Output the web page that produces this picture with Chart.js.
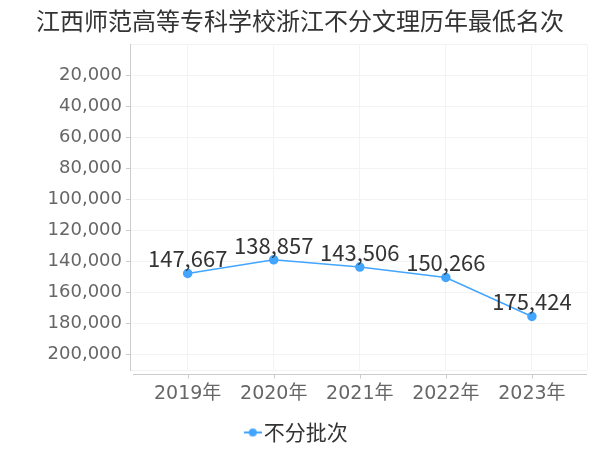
<!DOCTYPE html>
<html>
<head>
<meta charset="utf-8">
<script src="https://cdn.jsdelivr.net/npm/chart.js@4"></script>
<style>
  html, body { margin: 0; padding: 0; background: #fff; }
  #wrap { width: 600px; height: 450px; }
</style>
</head>
<body>
<div id="wrap"><canvas id="rankChart" width="600" height="450"></canvas></div>
<script>
const years = ['2019年', '2020年', '2021年', '2022年', '2023年'];
const minRanks = [147667, 138857, 143506, 150266, 175424];
const seriesName = '不分批次';
const yTicks = [0, 20000, 40000, 60000, 80000, 100000, 120000, 140000, 160000, 180000, 200000, 210000];

const lineColor = '#42a5ff';
const axisColor = '#cccccc';
const gridColor = '#f3f3f3';
const cnFont = '"Noto Sans CJK SC", "Noto Sans", sans-serif';
const tickFont = '"DejaVu Sans", "Noto Sans CJK SC", sans-serif';

const fmt = v => v.toLocaleString('en-US');
const shown = v => v !== 0 && v % 20000 === 0;

// small line+dot marker for the legend
const marker = document.createElement('canvas');
marker.width = 18; marker.height = 10;
(function () {
  const c = marker.getContext('2d');
  c.strokeStyle = lineColor; c.lineWidth = 2;
  c.beginPath(); c.moveTo(0, 5); c.lineTo(18, 5); c.stroke();
  c.fillStyle = lineColor;
  c.beginPath(); c.arc(9, 5, 4, 0, Math.PI * 2); c.fill();
})();

const pointLabels = {
  id: 'pointLabels',
  afterDatasetsDraw(chart) {
    const ctx = chart.ctx;
    const meta = chart.getDatasetMeta(0);
    ctx.save();
    ctx.font = '22px ' + cnFont;
    ctx.fillStyle = '#333';
    ctx.textAlign = 'center';
    ctx.textBaseline = 'alphabetic';
    meta.data.forEach((pt, i) => {
      ctx.fillText(fmt(minRanks[i]), pt.x, pt.y - 6);
    });
    ctx.restore();
  }
};

const bottomAxis = {
  id: 'bottomAxis',
  afterDraw(chart) {
    const ctx = chart.ctx;
    const area = chart.chartArea;
    const xs = chart.scales.x;
    const y = Math.round(area.bottom) + 4.5;
    ctx.save();
    ctx.strokeStyle = axisColor;
    ctx.lineWidth = 1;
    ctx.beginPath();
    ctx.moveTo(area.left + 3, y);
    ctx.lineTo(area.right, y);
    years.forEach((_, i) => {
      const x = Math.round(xs.getPixelForValue(i)) + 0.5;
      ctx.moveTo(x, y);
      ctx.lineTo(x, y + 4);
    });
    ctx.stroke();
    ctx.restore();
  }
};

new Chart(document.getElementById('rankChart'), {
  type: 'line',
  data: {
    datasets: [{
      label: seriesName,
      data: minRanks.map((v, i) => ({ x: i, y: v })),
      borderColor: lineColor,
      backgroundColor: lineColor,
      borderWidth: 1.5,
      pointRadius: 4,
      pointHoverRadius: 4,
      tension: 0
    }]
  },
  options: {
    responsive: false,
    animation: false,
    layout: { padding: { top: 0, left: 0, right: 0, bottom: -3 } },
    scales: {
      x: {
        type: 'linear',
        min: -0.67,
        max: 4.64,
        afterBuildTicks: s => { s.ticks = years.map((_, i) => ({ value: i })).concat([{ value: 4.64 }]); },
        afterFit: s => { s.height = 50; },
        border: { display: false },
        grid: { color: gridColor, drawTicks: false },
        ticks: {
          padding: 13,
          color: '#666',
          font: { family: tickFont, size: 19 },
          maxRotation: 0,
          callback: v => Number.isInteger(v) ? years[v] : ''
        }
      },
      y: {
        reverse: true,
        min: 0,
        max: 210000,
        afterBuildTicks: s => { s.ticks = yTicks.map(v => ({ value: v })); },
        afterFit: s => { s.width = 130; },
        border: { display: true, color: axisColor },
        grid: {
          color: gridColor,
          tickLength: 4,
          tickColor: c => shown(c.tick.value) ? axisColor : 'rgba(0,0,0,0)'
        },
        ticks: {
          padding: 4,
          color: '#666',
          font: { family: tickFont, size: 18 },
          callback: v => shown(v) ? fmt(v) : ''
        }
      },
      // empty right-hand strip so the title and legend stay centred on the canvas
      gap: {
        position: 'right',
        afterFit: s => { s.width = 12; },
        grid: { display: false },
        border: { display: false },
        ticks: { display: false }
      }
    },
    plugins: {
      title: {
        display: true,
        text: '江西师范高等专科学校浙江不分文理历年最低名次',
        color: '#333',
        font: { family: cnFont, size: 24, weight: 'normal' },
        padding: { top: 6, bottom: 10 }
      },
      legend: {
        position: 'bottom',
        labels: {
          usePointStyle: true,
          pointStyleWidth: 1,
          color: '#333',
          font: { family: cnFont, size: 21 },
          padding: 2,
          generateLabels: () => [{
            text: seriesName,
            pointStyle: marker,
            fillStyle: lineColor,
            strokeStyle: lineColor,
            fontColor: '#333',
            datasetIndex: 0
          }]
        }
      },
      tooltip: { enabled: false }
    }
  },
  plugins: [pointLabels, bottomAxis]
});
</script>
</body>
</html>
